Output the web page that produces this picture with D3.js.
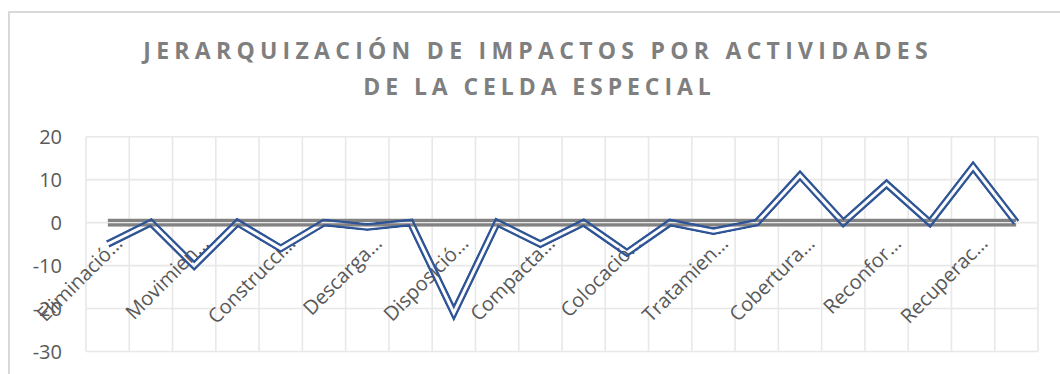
<!DOCTYPE html>
<html><head><meta charset="utf-8">
<script src="https://cdn.jsdelivr.net/npm/d3@7"></script>
<style>html,body{margin:0;padding:0;background:#fff;overflow:hidden}svg{display:block}</style>
</head><body>
<script>
// ---- data ----
const titleLines = ["JERARQUIZACIÓN DE IMPACTOS POR ACTIVIDADES", "DE LA CELDA ESPECIAL"];
const categoryLabels = ["Eliminació…","","Movimien…","","Construcci…","","Descarga…","","Disposició…","","Compacta…","","Colocació…","","Tratamien…","","Cobertura…","","Reconfor…","","Recuperac…",""];
const impactValues = [-5,0,-10,0,-6,0,-1,0,-21,0,-5,0,-7,0,-2,0,11,0,9,0,13,0];
const zeroLine = [0,0,0,0,0,0,0,0,0,0,0,0,0,0,0,0,0,0,0,0,0,0];
const yTicks = [20,10,0,-10,-20,-30];

const W = 1060, H = 374;
const svg = d3.select("body").append("svg").attr("width", W).attr("height", H);

svg.append("rect").attr("x", 9).attr("y", 12).attr("width", 1070).attr("height", 400)
  .attr("fill", "#fff").attr("stroke", "#d9d9d9").attr("stroke-width", 2);

const plot = {left: 86, right: 1038, top: 136.7, bottom: 351.5};
const idx = d3.range(categoryLabels.length);
const x = d3.scaleBand().domain(idx).range([plot.left, plot.right]).padding(0);
const y = d3.scaleLinear().domain([-30, 20]).range([plot.bottom, plot.top]);

// gridlines
const grid = svg.append("g").attr("stroke", "#e8e8e8").attr("stroke-width", 1.6);
grid.selectAll("line.h").data(yTicks).join("line")
  .attr("x1", plot.left).attr("x2", plot.right).attr("y1", d => y(d)).attr("y2", d => y(d));
grid.selectAll("line.v").data(idx.concat([idx.length])).join("line")
  .attr("x1", d => d < idx.length ? x(d) : plot.right).attr("x2", d => d < idx.length ? x(d) : plot.right)
  .attr("y1", plot.top).attr("y2", plot.bottom);

// y axis
const yAxis = svg.append("g").attr("transform", `translate(${plot.left - 24},0)`)
  .call(d3.axisLeft(y).tickValues(yTicks).tickFormat(d => String(d)).tickSize(0).tickPadding(0));
yAxis.select(".domain").remove();
yAxis.selectAll("text").attr("font-family", "'Open Sans', sans-serif").attr("font-size", 20)
  .attr("fill", "#595959").attr("dy", "0.35em");

// x axis labels (at value 0)
const xAxis = svg.append("g").attr("transform", `translate(0,${y(0)})`)
  .call(d3.axisBottom(x).tickFormat(i => categoryLabels[i]).tickSize(0));
xAxis.select(".domain").remove();
xAxis.selectAll("text").attr("font-family", "'Open Sans', sans-serif").attr("font-size", 20)
  .attr("fill", "#595959").attr("text-anchor", "end").attr("dy", 0).attr("y", 0)
  .attr("transform", "translate(16,22) rotate(-45)");

// double (compound) line helper
const defs = svg.append("defs");
let mid = 0;
function doubleLine(values, color, width, gap) {
  const line = d3.line().x((d, i) => x(i) + x.bandwidth() / 2).y(d => y(d));
  const id = "m" + (mid++);
  const m = defs.append("mask").attr("id", id).attr("maskUnits", "userSpaceOnUse")
    .attr("x", 0).attr("y", 0).attr("width", W).attr("height", H);
  m.append("path").attr("d", line(values)).attr("fill", "none").attr("stroke", "#fff")
    .attr("stroke-width", width).attr("stroke-linejoin", "miter").attr("stroke-miterlimit", 10);
  m.append("path").attr("d", line(values)).attr("fill", "none").attr("stroke", "#000")
    .attr("stroke-width", gap).attr("stroke-linejoin", "miter").attr("stroke-miterlimit", 10)
    .attr("stroke-linecap", "square");
  svg.append("path").attr("d", line(values)).attr("fill", "none").attr("stroke", color)
    .attr("stroke-width", width).attr("stroke-linejoin", "miter").attr("stroke-miterlimit", 10)
    .attr("mask", `url(#${id})`);
}
doubleLine(zeroLine, "#828282", 8.4, 1.4);
doubleLine(impactValues, "#2f5597", 8, 3);

// title
const tg = svg.append("g").attr("font-family", "'Open Sans', sans-serif").attr("font-weight", "bold")
  .attr("font-size", 23).attr("fill", "#7f7f7f");
const titleSpec = [{x0: 143.3, x1: 927.7, yb: 58.5}, {x0: 363.3, x1: 710.7, yb: 95}];
titleLines.forEach((t, k) => {
  const s = titleSpec[k];
  const el = tg.append("text").attr("x", s.x0).attr("y", s.yb).text(t);
  const nat = el.node().getComputedTextLength();
  const ls = (s.x1 - s.x0 - nat) / (t.length - 1);
  el.attr("letter-spacing", ls);
});
</script>
</body></html>
